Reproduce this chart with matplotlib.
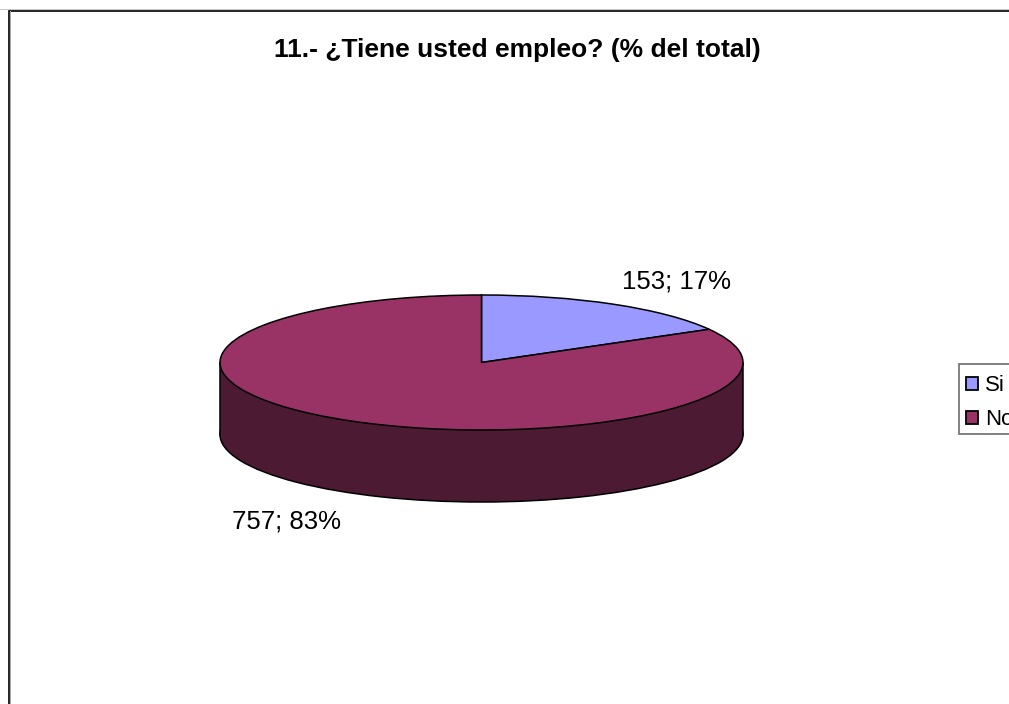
import matplotlib
matplotlib.use("Agg")
import matplotlib.pyplot as plt
from matplotlib.patches import Rectangle

plt.rcParams['font.family'] = ['Liberation Sans', 'DejaVu Sans']

TITLE = "11.- ¿Tiene usted empleo? (% del total)"
categories = ["Si", "No"]
values = [153, 757]
percents = [17, 83]
top_colors = ["#9999FF", "#993366"]
side_color = "#4D1A33"

W, H = 1009, 704
fig = plt.figure(figsize=(W / 100, H / 100), dpi=100, facecolor="white")

# chart frame
bg = fig.add_axes([0, 0, 1, 1], zorder=0)
bg.set_xlim(0, W); bg.set_ylim(H, 0); bg.axis("off")
bg.plot([8.5, 8.5, W], [H, 10.5, 10.5], color="black", lw=1.2, solid_joinstyle="miter", clip_on=False)
bg.plot([0, W], [9, 9], color="#bbbbbb", lw=0.6)
bg.plot([10, 10], [11, H], color="#aaaaaa", lw=0.7)
bg.text(517, 57, TITLE, ha="center", va="baseline", fontsize=19, fontweight="bold")

# pie: an axes stretched so that a unit circle becomes the ellipse
cx, cy, rx, ry, depth = 481.5, 362.5, 261.5, 67.5, 72
ax = fig.add_axes([(cx - rx) / W, 1 - (cy + ry) / H, 2 * rx / W, 2 * ry / H], zorder=1)
d = depth / ry
kw = dict(startangle=90, counterclock=False, radius=1)
ax.pie([1], colors=[side_color], center=(0, -d), frame=False,
       wedgeprops=dict(edgecolor="black", linewidth=1.1, clip_on=False), **kw)
ax.add_patch(Rectangle((-1, -d), 2, d, facecolor=side_color, edgecolor="none", clip_on=False, zorder=2))
ax.plot([-1, -1], [0, -d], color="black", lw=1.1, clip_on=False, zorder=3)
ax.plot([1, 1], [0, -d], color="black", lw=1.1, clip_on=False, zorder=3)
wedges, _ = ax.pie(values, colors=top_colors,
                   wedgeprops=dict(edgecolor="black", linewidth=1.1, clip_on=False, zorder=4), **kw)
ax.set_aspect("auto")
ax.set_xlim(-1, 1); ax.set_ylim(-1, 1)
ax.axis("off")

labels = [f"{v}; {p}%" for v, p in zip(values, percents)]
bg.text(677, 289, labels[0], ha="center", va="baseline", fontsize=18.5)
bg.text(286, 528, labels[1], ha="center", va="baseline", fontsize=18.5)

# legend runs past the right edge of the figure, as in the source
bg.add_patch(Rectangle((958.5, 364), 80, 70, facecolor="white", edgecolor="#777777", lw=1.3, clip_on=True))
handles = [Rectangle((0, 0), 1, 1, facecolor=c, edgecolor="black", lw=1.3) for c in top_colors]
leg = fig.legend(handles, categories, loc="upper left", bbox_to_anchor=(956.5 / W, 1 - 366 / H),
                 fontsize=16, frameon=False,
                 borderpad=0.42, borderaxespad=0, handlelength=0.55, handleheight=0.55,
                 handletextpad=0.33, labelspacing=0.58, ncols=1)
leg.set_zorder(5)

fig.savefig("out.png", dpi=100)
